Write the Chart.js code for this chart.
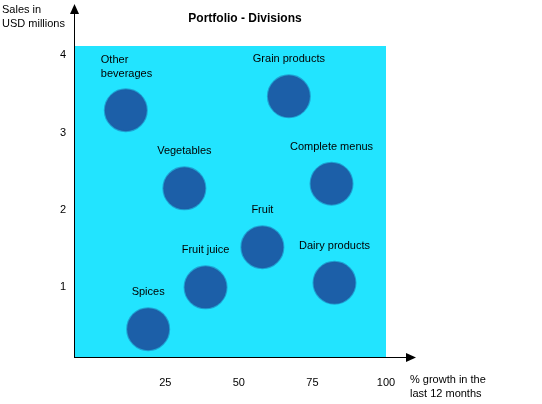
<!DOCTYPE html>
<html>
<head>
<meta charset="utf-8">
<script src="https://cdn.jsdelivr.net/npm/chart.js@4/dist/chart.umd.min.js"></script>
<style>
  body { margin: 0; background: #fff; }
</style>
</head>
<body>
<canvas id="portfolio" width="542" height="404"></canvas>
<script>
// data
const divisions = ['Other beverages', 'Grain products', 'Vegetables', 'Complete menus', 'Fruit', 'Fruit juice', 'Dairy products', 'Spices'];
const growth = [11.6, 67, 31.5, 81.5, 58, 38.7, 82.5, 19.2];
const sales = [3.29, 3.47, 2.28, 2.34, 1.52, 1.0, 1.06, 0.46];
const xTicks = [25, 50, 75, 100];
const yTicks = [1, 2, 3, 4];

const FONT = '11px "Liberation Sans", Arial, sans-serif';

const decor = {
    id: 'decor',
    beforeDraw(chart) {
        const { ctx, chartArea: a } = chart;
        ctx.save();
        ctx.fillStyle = '#22e4ff';
        ctx.fillRect(a.left, a.top, a.right - a.left, a.bottom - a.top);
        ctx.restore();
    },
    afterDraw(chart) {
        const { ctx, chartArea: a, scales } = chart;
        ctx.save();
        ctx.strokeStyle = '#000';
        ctx.fillStyle = '#000';
        ctx.lineWidth = 1;
        // axes with arrows
        ctx.beginPath();
        ctx.moveTo(a.left + 0.5, a.bottom);
        ctx.lineTo(a.left + 0.5, 10);
        ctx.moveTo(a.left, a.bottom + 0.5);
        ctx.lineTo(410, a.bottom + 0.5);
        ctx.stroke();
        ctx.beginPath();
        ctx.moveTo(a.left + 0.5, 4); ctx.lineTo(a.left - 4, 14); ctx.lineTo(a.left + 5, 14); ctx.fill();
        ctx.beginPath();
        ctx.moveTo(416, a.bottom + 0.5); ctx.lineTo(406, a.bottom - 4); ctx.lineTo(406, a.bottom + 5); ctx.fill();

        ctx.font = FONT;
        ctx.textAlign = 'center';
        ctx.textBaseline = 'middle';
        xTicks.forEach(t => ctx.fillText(t, scales.x.getPixelForValue(t), a.bottom + 26));
        ctx.textAlign = 'right';
        yTicks.forEach(t => ctx.fillText(t, a.left - 8, scales.y.getPixelForValue(t)));

        // titles
        ctx.textAlign = 'left';
        ctx.fillText('Sales in', 2, 10);
        ctx.fillText('USD millions', 2, 24);
        ctx.fillText('% growth in the', 410, 380);
        ctx.fillText('last 12 months', 410, 394);
        ctx.font = 'bold 12px "Liberation Sans", Arial, sans-serif';
        ctx.textAlign = 'center';
        ctx.fillText('Portfolio - Divisions', 245, 19);

        // bubble labels
        ctx.font = FONT;
        divisions.forEach((name, i) => {
            const x = scales.x.getPixelForValue(growth[i]);
            const y = scales.y.getPixelForValue(sales[i]);
            if (name === 'Other beverages') {
                ctx.textAlign = 'left';
                ctx.fillText('Other', x - 25, y - 50);
                ctx.fillText('beverages', x - 25, y - 36);
            } else {
                ctx.textAlign = 'center';
                ctx.fillText(name, x, y - 37);
            }
        });
        ctx.restore();
    }
};

new Chart(document.getElementById('portfolio'), {
    type: 'bubble',
    data: {
        datasets: [{
            data: growth.map((g, i) => ({ x: g, y: sales[i], r: 21 })),
            backgroundColor: '#1c5fa8',
            borderColor: 'rgba(28,95,168,0.5)',
            borderWidth: 2
        }]
    },
    options: {
        responsive: false,
        animation: false,
        layout: { padding: { left: 74, right: 156, top: 46, bottom: 47 } },
        plugins: { legend: { display: false }, tooltip: { enabled: false } },
        scales: {
            x: { display: false, min: -6, max: 100 },
            y: { display: false, min: 0.1, max: 4.12 }
        }
    },
    plugins: [decor]
});
</script>
</body>
</html>
